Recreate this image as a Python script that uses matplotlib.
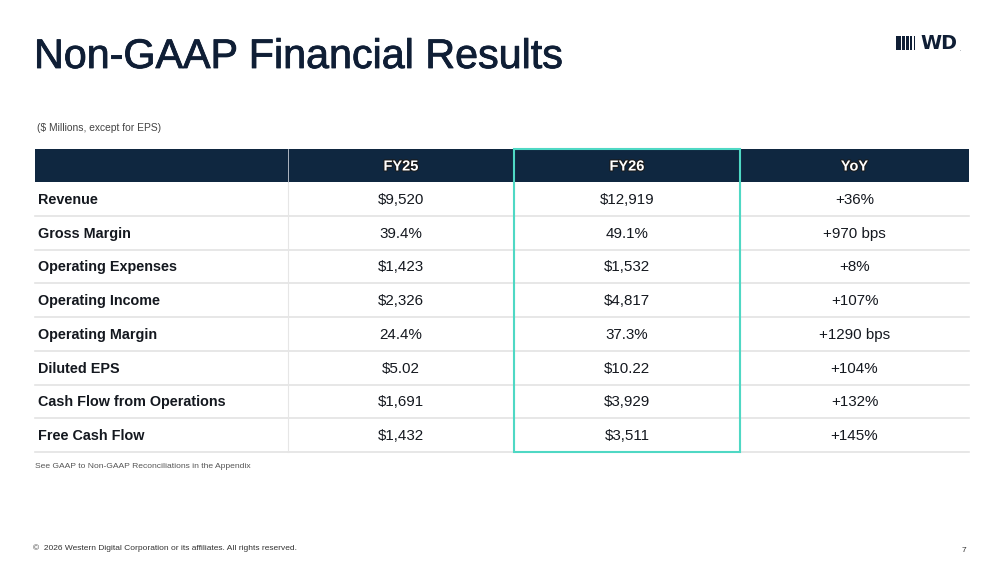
import matplotlib
matplotlib.use('Agg')
import matplotlib.pyplot as plt
from matplotlib.patches import Rectangle
import matplotlib.patheffects as pe

plt.rcParams['font.family'] = ['Liberation Sans', 'DejaVu Sans']

columns = ['FY25', 'FY26', 'YoY']
metrics = ['Revenue', 'Gross Margin', 'Operating Expenses', 'Operating Income',
           'Operating Margin', 'Diluted EPS', 'Cash Flow from Operations', 'Free Cash Flow']
fy25 = ['$9,520', '39.4%', '$1,423', '$2,326', '24.4%', '$5.02', '$1,691', '$1,432']
fy26 = ['$12,919', '49.1%', '$1,532', '$4,817', '37.3%', '$10.22', '$3,929', '$3,511']
yoy = ['+36%', '+970 bps', '+8%', '+107%', '+1290 bps', '+104%', '+132%', '+145%']

NAVY = '#0f2740'
TEAL = '#4fd8c4'
INK = '#14181f'

fig = plt.figure(figsize=(10, 5.62), dpi=100)
ax = fig.add_axes([0, 0, 1, 1])
ax.set_xlim(0, 1000)
ax.set_ylim(562, 0)
ax.axis('off')

# title and subtitle
ax.text(34, 57, 'Non-GAAP Financial Results', fontsize=29.7, color='#0f1e35',
        va='center', ha='left',
        path_effects=[pe.withStroke(linewidth=0.6, foreground='#0f1e35')])
ax.text(37, 128, '($ Millions, except for EPS)', fontsize=7.4, color='#444444', va='center')

# WD logo
bar_x = [896, 901.5, 906, 910, 913.5]
bar_w = [4.5, 3.2, 2.6, 2.0, 1.4]
for bx, bw in zip(bar_x, bar_w):
    ax.add_patch(Rectangle((bx, 36), bw, 14, color='#0f1e35', lw=0))
ax.text(920, 43.5, 'WD', fontsize=13.8, fontweight='bold', color='#0f1e35', va='center',
        ha='left', family='DejaVu Sans')
ax.text(960, 49.5, '.', fontsize=3.5, color='#0f1e35', va='center', ha='left')

# table geometry
col_edges = [35, 288, 514, 740, 969]
head_top, head_bot = 149, 182
row_h = (452 - head_bot) / len(metrics)

ax.add_patch(Rectangle((col_edges[0], head_top), col_edges[-1] - col_edges[0],
                       head_bot - head_top, color=NAVY, lw=0))
for xe in col_edges[1:-1]:
    ax.plot([xe, xe], [head_top, head_bot], color='#c8cdd6', lw=0.6, zorder=3)

for j, c in enumerate(columns):
    cx = (col_edges[j + 1] + col_edges[j + 2]) / 2
    ax.text(cx, (head_top + head_bot) / 2 + 1, c, fontsize=10.5, fontweight='bold',
            color='white', ha='center', va='center', zorder=4,
            path_effects=[pe.withStroke(linewidth=1.5, foreground='#1a1a1a')])

cols_vals = [fy25, fy26, yoy]
for i, m in enumerate(metrics):
    y0 = head_bot + i * row_h
    yc = y0 + row_h / 2 + 1
    ax.text(38, yc, m, fontsize=10.4, fontweight='bold', color=INK, va='center')
    for j, vals in enumerate(cols_vals):
        cx = (col_edges[j + 1] + col_edges[j + 2]) / 2
        ax.text(cx, yc, vals[i], fontsize=10.9, color=INK, ha='center', va='center')
    ax.plot([col_edges[0], col_edges[-1]], [y0 + row_h, y0 + row_h], color='#e3e3e3', lw=1.2)

for xe in col_edges[1:-1]:
    ax.plot([xe, xe], [head_bot, 452], color='#e6e6e6', lw=0.8)

# highlight box around FY26
ax.add_patch(Rectangle((col_edges[2], head_top), col_edges[3] - col_edges[2], 452 - head_top,
                       fill=False, edgecolor=TEAL, lw=1.5, zorder=5))

ax.text(35, 466, 'See GAAP to Non-GAAP Reconciliations in the Appendix', fontsize=6.1,
        color='#555555', va='center')
ax.text(33, 548, '\u00a9  2026 Western Digital Corporation or its affiliates. All rights reserved.',
        fontsize=6.0, color='#333333', va='center')
ax.text(966, 550, '7', fontsize=6.0, color='#333333', va='center', ha='right')

fig.savefig('out.png', dpi=100)
